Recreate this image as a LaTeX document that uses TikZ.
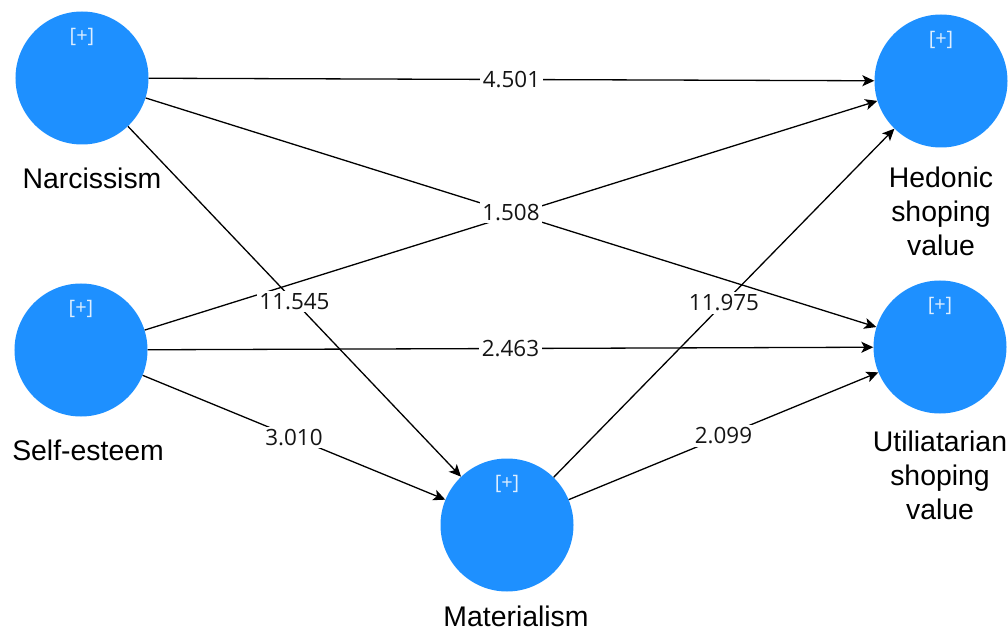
\documentclass[tikz,border=0pt]{standalone}
\usepackage{fontspec}
\setmainfont{Liberation Sans}
\newfontfamily\numfont{Open Sans}
\usetikzlibrary{arrows.meta}
\definecolor{latent}{RGB}{30,144,255}
\definecolor{inktext}{RGB}{20,20,20}
\tikzset{
  construct/.style={circle, fill=latent, draw=none, minimum size=133bp, inner sep=0pt},
  plus/.style={text=white!85!latent, font=\numfont\fontsize{20}{20}\selectfont, inner sep=0pt},
  cname/.style={text=black, font=\fontsize{28.5}{34}\selectfont, align=center, inner sep=0pt},
  path/.style={draw=black, line width=1.3bp, -{Stealth[length=12bp,width=11bp,inset=3bp]}},
  coef/.style={fill=white, text=inktext, inner sep=2.5bp, font=\numfont\fontsize{22.5}{22.5}\selectfont}
}
\begin{document}
\begin{tikzpicture}[x=1bp,y=-1bp]
\useasboundingbox (0,0) rectangle (1008,633);

% latent constructs
\node[construct] (nar) at (82,78) {};
\node[construct] (se)  at (81,350) {};
\node[construct] (mat) at (507,525) {};
\node[construct] (hed) at (941,81) {};
\node[construct] (uti) at (940,347) {};

\foreach \c in {nar,se,mat,hed,uti}
  \node[plus] (\c-plus) at ([yshift=41bp]\c.center) {[+]};

% construct names
\node[cname] (nar-name) at (92,178) {Narcissism};
\node[cname] (se-name)  at (88,450) {Self-esteem};
\node[cname] (mat-name) at (516,616) {Materialism};
\node[cname] (hed-name) at (941,211) {Hedonic\\shoping\\value};
\node[cname] (uti-name) at (940,475) {Utiliatarian\\shoping\\value};

% structural paths
\draw[path] (nar) -- (hed);
\draw[path] (nar) -- (uti);
\draw[path] (se)  -- (hed);
\draw[path] (nar) -- (mat);
\draw[path] (se)  -- (uti);
\draw[path] (se)  -- (mat);
\draw[path] (mat) -- (hed);
\draw[path] (mat) -- (uti);

% path coefficients
\path (nar) -- (hed) node[coef, pos=0.5] (c1) {4.501};
\path (nar) -- (uti) node[coef, pos=0.5] (c2) {1.508};
\path (nar) -- (mat) node[coef, pos=0.5] (c3) {11.545};
\path (se)  -- (uti) node[coef, pos=0.5] (c4) {2.463};
\path (se)  -- (mat) node[coef, pos=0.5] (c5) {3.010};
\path (mat) -- (hed) node[coef, pos=0.5] (c6) {11.975};
\path (mat) -- (uti) node[coef, pos=0.5] (c7) {2.099};
\end{tikzpicture}
\end{document}
